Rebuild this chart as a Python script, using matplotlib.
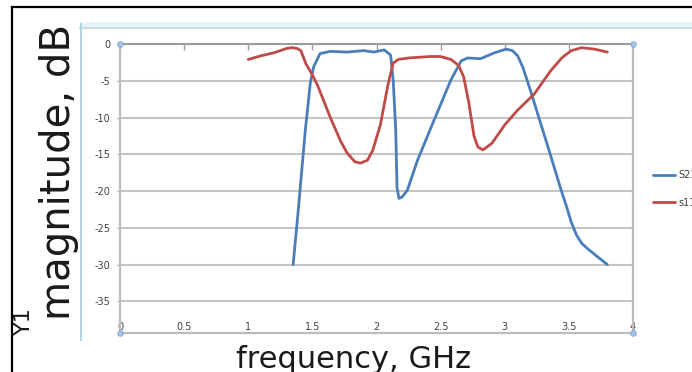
import matplotlib
matplotlib.use('Agg')
import matplotlib.pyplot as plt
from matplotlib.lines import Line2D
from matplotlib.patches import Rectangle

# ---- data ----
freq_s21 = [1.35, 1.39, 1.445, 1.484, 1.51, 1.56, 1.64, 1.77, 1.90, 1.98, 2.06, 2.11,
            2.13, 2.15, 2.16, 2.175, 2.20, 2.24, 2.32, 2.45, 2.58, 2.66, 2.71, 2.81,
            2.92, 3.01, 3.06, 3.10, 3.14, 3.20, 3.28, 3.36, 3.44, 3.48, 3.52, 3.56,
            3.60, 3.65, 3.70, 3.75, 3.80]
s21 = [-30.0, -22.6, -11.7, -5.3, -3.1, -1.3, -1.0, -1.1, -0.9, -1.1, -0.8, -1.5,
       -4.9, -11.7, -19.5, -21.0, -20.8, -19.9, -15.8, -10.3, -4.9, -2.3, -1.9, -2.0,
       -1.2, -0.7, -0.9, -1.6, -3.1, -6.3, -10.8, -15.3, -19.9, -22.0, -24.3, -26.0,
       -27.1, -27.9, -28.6, -29.3, -30.0]

freq_s11 = [1.0, 1.1, 1.2, 1.3, 1.34, 1.38, 1.41, 1.45, 1.5, 1.54, 1.64, 1.72, 1.77,
            1.83, 1.875, 1.93, 1.97, 2.03, 2.09, 2.13, 2.17, 2.25, 2.42, 2.5, 2.58,
            2.64, 2.68, 2.72, 2.76, 2.79, 2.83, 2.9, 3.0, 3.1, 3.23, 3.36, 3.45,
            3.52, 3.6, 3.7, 3.8]
s11 = [-2.1, -1.6, -1.2, -0.6, -0.5, -0.6, -0.9, -2.7, -4.2, -5.6, -10.0, -13.2, -14.8,
       -16.0, -16.2, -15.8, -14.5, -11.0, -5.5, -2.6, -2.1, -1.9, -1.7, -1.7, -2.1,
       -2.9, -4.5, -8.0, -12.5, -14.0, -14.4, -13.5, -11.0, -9.0, -6.8, -3.6, -1.8,
       -0.9, -0.5, -0.7, -1.1]

series_names = ['S21', 's11']
x_ticks = [0, 0.5, 1, 1.5, 2, 2.5, 3, 3.5, 4]
x_tick_labels = ['0', '0.5', '1', '1.5', '2', '2.5', '3', '3.5', '4']
y_ticks = [0, -5, -10, -15, -20, -25, -30, -35]
y_tick_labels = ['0', '-5', '-10', '-15', '-20', '-25', '-30', '-35']

W, H = 692, 372


def fx(x):
    return x / W


def fy(y):
    return 1 - y / H


fig = plt.figure(figsize=(W / 100, H / 100), dpi=100)
fig.patch.set_facecolor('white')

ax = fig.add_axes([fx(120), fy(333), (633 - 120) / W, (333 - 44) / H])
ax.plot(freq_s21, s21, color='#4a7ebb', lw=2.0, label=series_names[0], solid_capstyle='round',
        solid_joinstyle='round')
ax.plot(freq_s11, s11, color='#be4b48', lw=2.0, label=series_names[1], solid_capstyle='round',
        solid_joinstyle='round')

ax.set_xlim(0, 4)
ax.set_ylim(-39.3, 0)
ax.set_xticks(x_ticks)
ax.set_xticklabels(x_tick_labels)
ax.set_yticks(y_ticks)
ax.set_yticklabels(y_tick_labels)
ax.set_axisbelow(True)
ax.yaxis.grid(True, color='#c4c4c4', lw=1.5)

ax.tick_params(axis='x', bottom=False, top=True, labelbottom=True, labeltop=False,
               direction='in', length=4, width=1, color='#a0a0a0', pad=-8,
               labelsize=7, labelcolor='#404040')
ax.tick_params(axis='y', direction='out', length=2, width=1, color='#b0b0b0', pad=5,
               labelsize=7, labelcolor='#404040')

ax.spines['top'].set_color('#9c9c9c')
ax.spines['top'].set_linewidth(1.5)
for s in ['left', 'right', 'bottom']:
    ax.spines[s].set_color('#bdbdbd')
    ax.spines[s].set_linewidth(1.6)

# selection handles at plot-area corners
ax.plot([0, 1, 0, 1], [1, 1, 0, 0], 'o', transform=ax.transAxes, clip_on=False,
        ms=4, color='#a9c4e6', mec='#7fa3cf', mew=0.6, zorder=5)

# legend (cut off by image edge as in the screenshot)
ax.legend(loc='upper left', bbox_to_anchor=(fx(653), fy(170)), bbox_transform=fig.transFigure,
          borderpad=0, borderaxespad=0, handlelength=2.3, handletextpad=0.3,
          labelspacing=1.8, frameon=False, fontsize=7, labelcolor='#404040')

# chart-area frame (Excel selection)
fig.add_artist(Rectangle((fx(80), fy(28)), fx(W - 80), 6 / H, transform=fig.transFigure,
                         facecolor='#e6f6f8', edgecolor='none'))
fig.add_artist(Line2D([fx(80), 1], [fy(28), fy(28)], color='#c5d6da', lw=1.2))
fig.add_artist(Line2D([fx(81), fx(81)], [fy(24), fy(340)], color='#a9d3da', lw=1.3))

# screenshot black border
fig.add_artist(Line2D([fx(12), 1], [fy(7), fy(7)], color='black', lw=1.6))
fig.add_artist(Line2D([fx(12), fx(12)], [fy(7), 0], color='black', lw=1.6))

# axis titles
fig.text(fx(59), fy(172), 'magnitude, dB', rotation=90, ha='center', va='center',
         fontsize=29, color='#1a1a1a', family='DejaVu Sans')
fig.text(fx(24), fy(321), 'Y1', rotation=90, ha='center', va='center',
         fontsize=16, color='#1a1a1a', family='DejaVu Sans')
fig.text(fx(354), fy(368), 'frequency, GHz', ha='center', va='baseline',
         fontsize=22, color='#1a1a1a', family='DejaVu Sans')

fig.savefig('out.png', dpi=100)
